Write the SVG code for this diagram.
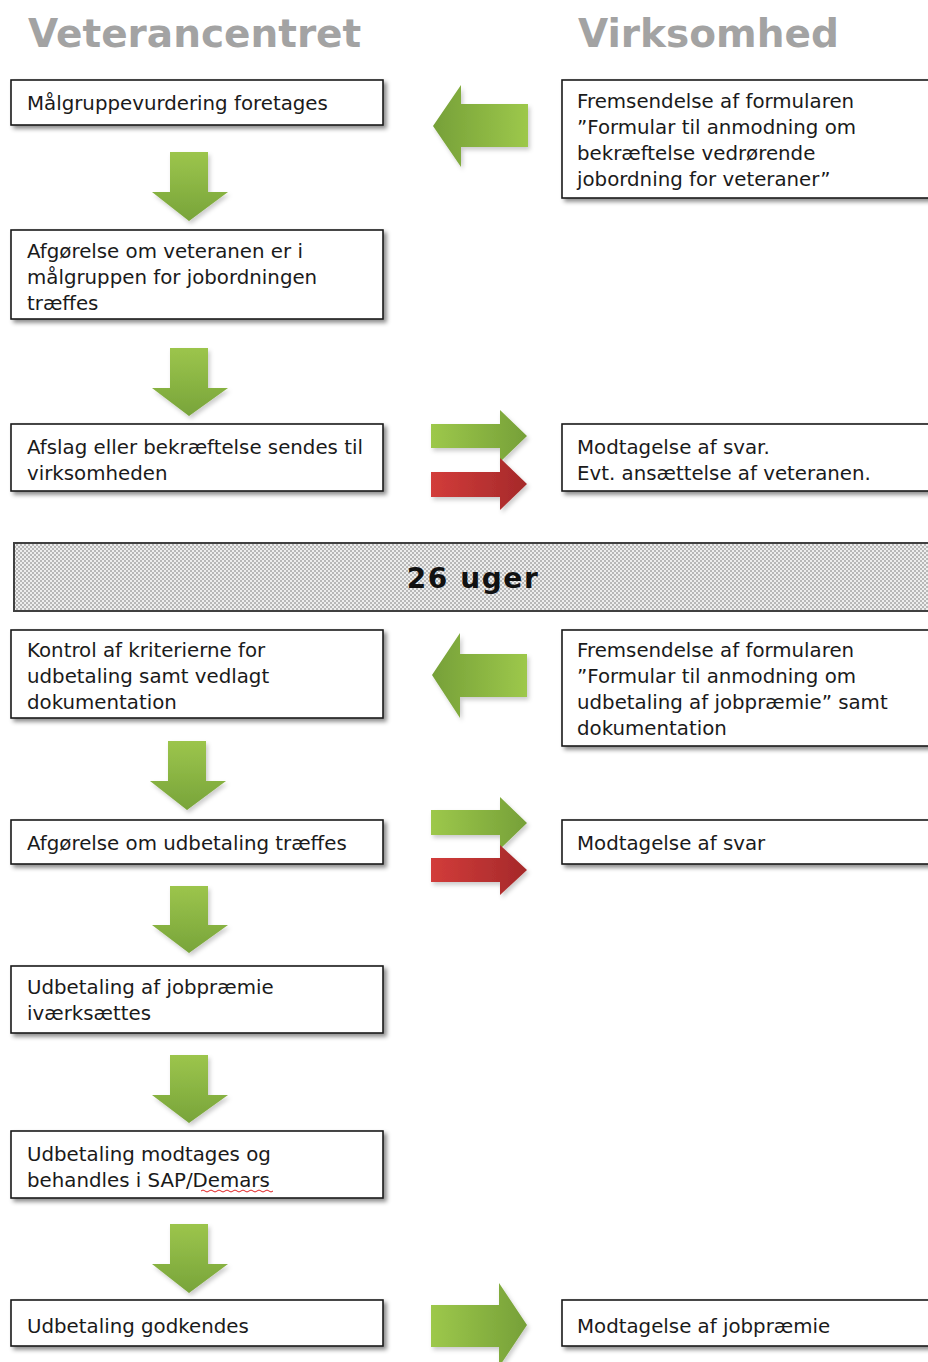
<svg xmlns="http://www.w3.org/2000/svg" width="928" height="1362" viewBox="0 0 928 1362">
<defs>
  <filter id="sh" x="-5%" y="-20%" width="115%" height="150%">
    <feDropShadow dx="3" dy="3" stdDeviation="2" flood-color="#000" flood-opacity="0.45"/>
  </filter>
  <filter id="ash" x="-20%" y="-20%" width="150%" height="150%">
    <feDropShadow dx="2" dy="3" stdDeviation="2" flood-color="#000" flood-opacity="0.2"/>
  </filter>
  <linearGradient id="gDown" x1="0" y1="0" x2="0" y2="1">
    <stop offset="0" stop-color="#9cc54c"/>
    <stop offset="1" stop-color="#78a43a"/>
  </linearGradient>
  <linearGradient id="gLeft" x1="0" y1="0" x2="1" y2="0">
    <stop offset="0" stop-color="#76a038"/>
    <stop offset="1" stop-color="#9dc84b"/>
  </linearGradient>
  <linearGradient id="gRight" x1="0" y1="0" x2="1" y2="0">
    <stop offset="0" stop-color="#9dc84b"/>
    <stop offset="1" stop-color="#76a038"/>
  </linearGradient>
  <linearGradient id="rRight" x1="0" y1="0" x2="1" y2="0">
    <stop offset="0" stop-color="#d23c3a"/>
    <stop offset="1" stop-color="#a5292a"/>
  </linearGradient>
  <pattern id="chk" width="4" height="4" patternUnits="userSpaceOnUse">
    <rect width="4" height="4" fill="#eeeeee"/>
    <rect width="2" height="2" fill="#b8b8b8"/>
    <rect x="2" y="2" width="2" height="2" fill="#b8b8b8"/>
  </pattern>
  <style>
    .box { fill: #ffffff; stroke: #1a1a1a; stroke-width: 1.6; filter: url(#sh); }
    .t { font-family: "DejaVu Sans", Verdana, sans-serif; font-size: 19.8px; fill: #1a1a1a; }
    .title { font-family: "DejaVu Sans", Verdana, sans-serif; font-weight: bold; font-size: 39px; fill: #a3a3a3; }
    .band { fill: url(#chk); stroke: #404040; stroke-width: 2; }
    .bandt { font-family: "DejaVu Sans", Verdana, sans-serif; font-weight: bold; font-size: 28px; fill: #111; letter-spacing: 1.6px; }
    .ad { fill: url(#gDown); filter: url(#ash); }
    .al { fill: url(#gLeft); filter: url(#ash); }
    .ar { fill: url(#gRight); filter: url(#ash); }
    .rr { fill: url(#rRight); filter: url(#ash); }
  </style>
</defs>
<rect width="928" height="1362" fill="#ffffff"/>

<g id="headers">
  <text class="title" x="28" y="47">Veterancentret</text>
  <text class="title" x="578" y="47">Virksomhed</text>
</g>

<g id="band">
  <rect class="band" x="14" y="543" width="930" height="68"/>
  <text class="bandt" x="473" y="588" text-anchor="middle">26 uger</text>
</g>

<g id="connectors">
  <path class="ad" d="M170,152 H208 V192 H228 L189,221 L152,192 H170 Z"/>
  <path class="ad" d="M170,348 H208 V388 H228 L189,416 L152,388 H170 Z"/>
  <path class="ad" d="M168,741 H206 V781 H226 L187,810 L150,781 H168 Z"/>
  <path class="ad" d="M170,886 H208 V925 H228 L189,953 L152,925 H170 Z"/>
  <path class="ad" d="M170,1055 H208 V1095 H228 L189,1123 L152,1095 H170 Z"/>
  <path class="ad" d="M170,1224 H208 V1264 H228 L189,1293 L152,1264 H170 Z"/>
  <path class="al" d="M528,104 V147 H461 V167 L433,126 L461,85 V104 Z"/>
  <path class="al" d="M527,654 V697 H460 V718 L432,675 L460,633 V654 Z"/>
  <path class="ar" d="M431,424 H500 V410 L527,436 L500,462 V448 H431 Z"/>
  <path class="rr" d="M431,472 H500 V458 L527,484 L500,510 V497 H431 Z"/>
  <path class="ar" d="M431,810 H500 V797 L527,823 L500,849 V835 H431 Z"/>
  <path class="rr" d="M431,858 H500 V845 L527,870 L500,895 V882 H431 Z"/>
  <path class="ar" d="M431,1305 H499 V1283 L527,1325 L499,1367 V1347 H431 Z"/>
</g>

<g id="n1">
  <rect class="box" x="11" y="80" width="372" height="45"/>
  <text class="t" x="27" y="110">Målgruppevurdering foretages</text>
</g>
<g id="n2">
  <rect class="box" x="11" y="230" width="372" height="89"/>
  <text class="t" x="27" y="258">Afgørelse om veteranen er i</text>
  <text class="t" x="27" y="284">målgruppen for jobordningen</text>
  <text class="t" x="27" y="310">træffes</text>
</g>
<g id="n3">
  <rect class="box" x="11" y="424" width="372" height="67"/>
  <text class="t" x="27" y="454">Afslag eller bekræftelse sendes til</text>
  <text class="t" x="27" y="480">virksomheden</text>
</g>
<g id="n4">
  <rect class="box" x="11" y="630" width="372" height="88"/>
  <text class="t" x="27" y="657">Kontrol af kriterierne for</text>
  <text class="t" x="27" y="683">udbetaling samt vedlagt</text>
  <text class="t" x="27" y="709">dokumentation</text>
</g>
<g id="n5">
  <rect class="box" x="11" y="820" width="372" height="44"/>
  <text class="t" x="27" y="850">Afgørelse om udbetaling træffes</text>
</g>
<g id="n6">
  <rect class="box" x="11" y="966" width="372" height="67"/>
  <text class="t" x="27" y="994">Udbetaling af jobpræmie</text>
  <text class="t" x="27" y="1020">iværksættes</text>
</g>
<g id="n7">
  <rect class="box" x="11" y="1131" width="372" height="67"/>
  <text class="t" x="27" y="1161">Udbetaling modtages og</text>
  <text class="t" x="27" y="1187">behandles i SAP/Demars</text>
  <path d="M201,1191 q2,-2 4,0 t4,0 t4,0 t4,0 t4,0 t4,0 t4,0 t4,0 t4,0 t4,0 t4,0 t4,0 t4,0 t4,0 t4,0 t4,0 t4,0 t4,0" fill="none" stroke="#e02020" stroke-width="1"/>
</g>
<g id="n8">
  <rect class="box" x="11" y="1300" width="372" height="46"/>
  <text class="t" x="27" y="1333">Udbetaling godkendes</text>
</g>

<g id="r1">
  <rect class="box" x="562" y="80" width="380" height="118"/>
  <text class="t" x="577" y="108">Fremsendelse af formularen</text>
  <text class="t" x="577" y="134">”Formular til anmodning om</text>
  <text class="t" x="577" y="160">bekræftelse vedrørende</text>
  <text class="t" x="577" y="186">jobordning for veteraner”</text>
</g>
<g id="r2">
  <rect class="box" x="562" y="424" width="380" height="67"/>
  <text class="t" x="577" y="454">Modtagelse af svar.</text>
  <text class="t" x="577" y="480">Evt. ansættelse af veteranen.</text>
</g>
<g id="r3">
  <rect class="box" x="562" y="630" width="380" height="116"/>
  <text class="t" x="577" y="657">Fremsendelse af formularen</text>
  <text class="t" x="577" y="683">”Formular til anmodning om</text>
  <text class="t" x="577" y="709">udbetaling af jobpræmie” samt</text>
  <text class="t" x="577" y="735">dokumentation</text>
</g>
<g id="r4">
  <rect class="box" x="562" y="820" width="380" height="44"/>
  <text class="t" x="577" y="850">Modtagelse af svar</text>
</g>
<g id="r5">
  <rect class="box" x="562" y="1300" width="380" height="46"/>
  <text class="t" x="577" y="1333">Modtagelse af jobpræmie</text>
</g>
</svg>
